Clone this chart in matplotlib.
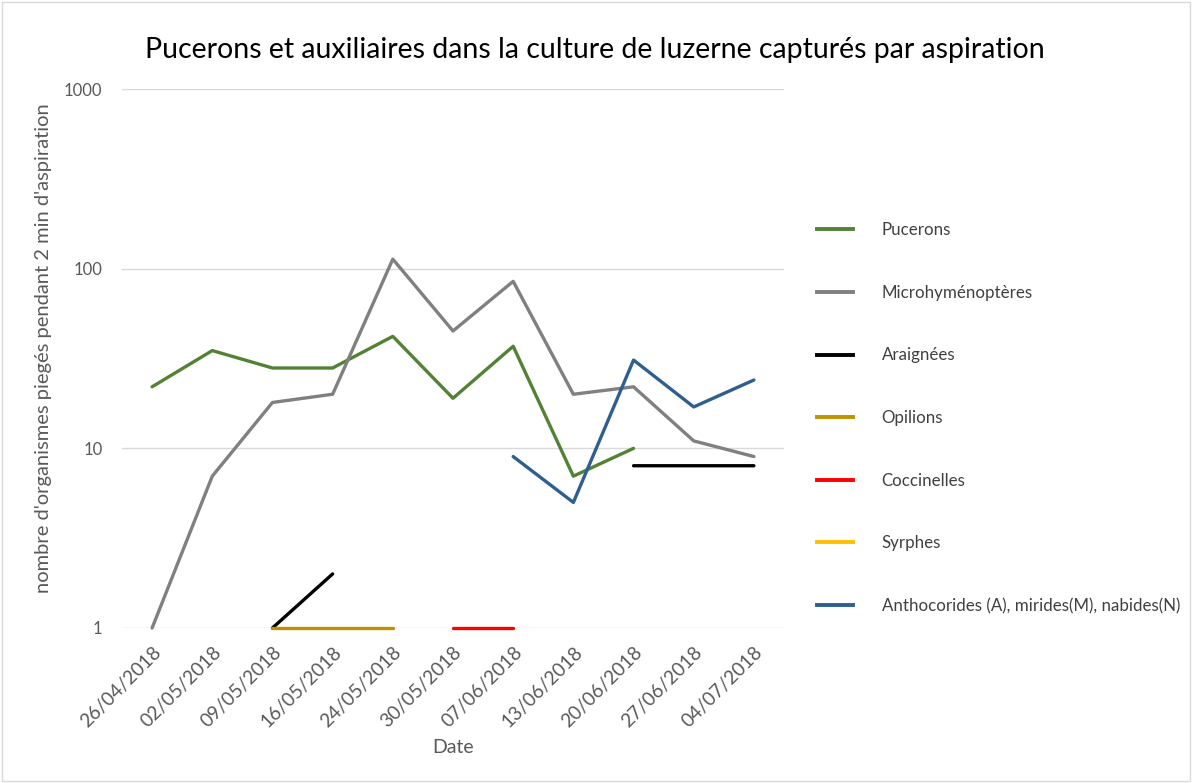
import numpy as np
import matplotlib
matplotlib.use("Agg")
import matplotlib.pyplot as plt
from matplotlib.lines import Line2D

plt.rcParams['font.family'] = ['Lato', 'DejaVu Sans']

dates = ["26/04/2018", "02/05/2018", "09/05/2018", "16/05/2018", "24/05/2018",
         "30/05/2018", "07/06/2018", "13/06/2018", "20/06/2018", "27/06/2018", "04/07/2018"]
nan = np.nan
pucerons = [22, 35, 28, 28, 42, 19, 37, 7, 10, nan, nan]
microhym = [1, 7, 18, 20, 113, 45, 85, 20, 22, 11, 9]
araignees = [nan, nan, 1, 2, nan, nan, nan, nan, 8, 8, 8]
opilions = [nan, nan, 1, 1, 1, nan, nan, nan, nan, nan, nan]
coccinelles = [nan, nan, nan, nan, nan, 1, 1, nan, nan, nan, nan]
syrphes = [nan] * 11
anthocorides = [nan, nan, nan, nan, nan, nan, 9, 5, 31, 17, 24]

series = [
    ("Pucerons", pucerons, "#548235"),
    ("Microhyménoptères", microhym, "#808080"),
    ("Araignées", araignees, "#000000"),
    ("Opilions", opilions, "#BF9000"),
    ("Coccinelles", coccinelles, "#FF0000"),
    ("Syrphes", syrphes, "#FFC000"),
    ("Anthocorides (A), mirides(M), nabides(N)", anthocorides, "#2E5F8F"),
]

fig = plt.figure(figsize=(11.92, 7.83), dpi=100)
ax = fig.add_axes([122/1192, 1-628/783, (784-122)/1192, (628-89)/783])

x = np.arange(len(dates))
handles = []
for name, vals, col in series:
    ax.plot(x, vals, color=col, lw=2.4, solid_capstyle='round', clip_on=False)
    handles.append(Line2D([0], [0], color=col, lw=2.8, label=name))

ax.set_yscale('log')
ax.set_ylim(1, 1000)
ax.set_xlim(-0.5, len(dates) - 0.5)
ax.set_yticks([1, 10, 100, 1000])
ax.set_yticklabels(["1", "10", "100", "1000"])
ax.minorticks_off()
ax.yaxis.grid(True, color="#D9D9D9", lw=1)
ax.set_axisbelow(True)
for s in ax.spines.values():
    s.set_visible(False)
ax.tick_params(axis='both', length=0, colors="#595959", labelsize=12)
ax.tick_params(axis='y', pad=14)
ax.tick_params(axis='x', pad=11)
ax.set_xticks(x)
ax.set_xticklabels(dates, rotation=45, ha='right', rotation_mode='anchor', fontsize=13.8)

ax.set_xlabel("Date", fontsize=14, color="#595959", labelpad=6)
ax.set_ylabel("nombre d'organismes piegés pendant 2 min d'aspiration", fontsize=14.5,
              color="#595959", labelpad=6)
ax.yaxis.set_label_coords(-0.105, 0.52)

fig.text(0.499, 1-50/783, "Pucerons et auxiliaires dans la culture de luzerne capturés par aspiration",
         ha='center', va='center', fontsize=20.5, color="#000000")

leg = fig.legend(handles=handles, loc='upper left', bbox_to_anchor=(802/1192, 1-207/783),
                 frameon=False, fontsize=12.2, labelspacing=2.75, handlelength=2.1,
                 handletextpad=1.7, labelcolor="#404040")

fig.patches.append(plt.Rectangle((0.002, 0.002), 0.996, 0.996, transform=fig.transFigure,
                                 fill=False, edgecolor="#D9D9D9", lw=1))

fig.savefig("out.png", dpi=100)
